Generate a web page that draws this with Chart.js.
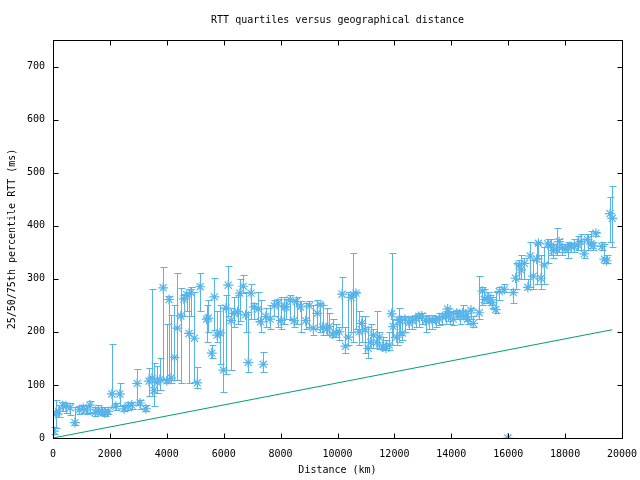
<!DOCTYPE html>
<html>
<head>
<meta charset="utf-8">
<script src="https://cdn.jsdelivr.net/npm/chart.js@4"></script>
<style>
html,body{margin:0;padding:0;background:#fff;}
#wrap{width:640px;height:480px;}
</style>
</head>
<body>
<div id="wrap"><canvas id="c" width="640" height="480"></canvas></div>
<script>
const titleText = "RTT quartiles versus geographical distance";
const xTitle = "Distance (km)";
const yTitle = "25/50/75th percentile RTT (ms)";

const distance = [30,100,200,340,460,600,770,920,1060,1180,1300,1480,1590,1710,1830,1940,2070,2210,2350,2500,2640,2770,2960,3060,3260,3370,3480,3550,3660,3760,3870,4000,4080,4150,4270,4370,4490,4600,4700,4780,4850,4970,5070,5170,5400,5460,5580,5670,5770,5870,5990,6080,6160,6260,6360,6490,6570,6690,6770,6860,6960,7070,7220,7300,7390,7480,7630,7780,7900,8010,8130,8190,8330,8470,8560,8700,8880,9010,9150,9290,9390,9480,9620,9710,9830,9950,10060,10160,10280,10380,10480,10560,10650,10760,10850,10970,11080,11170,11260,11380,11470,11590,11700,11820,11900,11960,12080,12160,12200,12280,12370,12510,12630,12750,12860,12960,13100,13220,13330,13450,13570,13690,13800,13870,13950,14070,14190,14310,14400,14510,14580,14690,14770,14980,15090,15160,15280,15360,15440,15560,15690,15860,15990,16180,16260,16380,16450,16570,16690,16770,16880,17000,17060,17150,17270,17390,17500,17580,17700,17790,17900,18000,18090,18210,18320,18440,18560,18670,18790,18910,18990,19080,19290,19380,19460,19580,19660];
const median = [13,45,50,61,60,57,29,53,56,53,62,48,53,50,47,50,83,60,83,55,60,62,103,66,55,107,113,90,105,111,283,108,261,113,152,207,230,262,270,197,274,188,104,285,224,226,160,266,194,198,128,245,288,221,235,238,273,286,232,142,273,247,243,219,139,229,224,249,254,221,247,247,260,221,257,247,221,249,207,235,251,209,205,210,196,198,200,271,173,190,265,270,273,200,216,204,169,180,194,180,190,173,169,175,234,210,190,222,222,198,224,217,221,225,229,230,221,222,222,222,224,229,230,243,232,224,235,229,236,229,224,241,216,236,277,261,265,260,255,242,276,280,0,274,301,326,317,329,284,343,305,337,367,301,326,366,362,353,356,370,359,356,359,361,361,364,370,347,374,366,362,386,361,337,334,423,414];
const q25 = [8,19,40,50,48,43,25,45,47,45,48,42,45,44,42,45,58,52,60,50,52,55,62,55,50,80,79,60,85,90,111,104,104,104,110,109,104,230,240,104,230,105,95,240,181,200,150,204,180,140,87,120,230,128,210,215,220,273,200,125,225,225,220,200,125,210,205,230,210,205,215,225,225,210,215,200,205,210,195,205,200,195,195,195,190,190,185,210,160,175,200,180,205,175,180,160,150,170,170,170,168,165,165,165,175,190,175,180,195,185,200,205,205,210,210,215,200,205,205,210,212,215,215,220,215,213,225,215,225,220,215,225,210,225,250,255,255,250,245,235,260,275,0,255,280,300,300,300,280,285,280,290,340,280,290,330,345,340,345,350,345,350,340,350,350,355,355,340,355,358,355,380,355,330,330,370,360];
const q75 = [20,72,62,68,66,66,58,60,62,60,70,58,62,58,55,58,177,66,103,62,67,68,130,72,62,132,281,141,135,150,322,215,268,232,250,311,282,270,275,280,285,275,134,311,250,260,175,301,240,250,245,270,324,245,265,270,300,307,275,238,290,255,275,260,163,245,250,260,262,265,265,262,270,262,265,258,255,258,250,260,255,250,245,235,225,215,210,304,210,275,270,348,275,240,230,230,210,215,205,240,200,190,185,200,348,225,215,245,230,225,230,228,230,232,235,235,230,232,232,230,235,235,240,245,238,240,242,240,250,240,235,245,230,305,285,280,275,270,265,275,285,290,0,280,330,335,345,340,300,370,335,365,370,345,360,375,375,365,395,375,365,365,370,368,375,380,385,375,385,390,370,388,370,365,345,455,475];

const boundDistance = [0, 19650];
const boundRtt = [0, 204];

const xTicks = [0,2000,4000,6000,8000,10000,12000,14000,16000,18000,20000];
const yTicks = [0,100,200,300,400,500,600,700];

const BLUE = '#56B4E9';
const GREEN = '#009E73';
const FONT = {family: '"DejaVu Sans Mono", "Liberation Mono", monospace', size: 10};

const pts = distance.map((d, i) => ({x: d, y: median[i]}));
const bound = boundDistance.map((d, i) => ({x: d, y: boundRtt[i]}));

const gnuplotFrame = {
  id: 'gnuplotFrame',
  beforeDatasetsDraw(chart) {
    const ctx = chart.ctx, xs = chart.scales.x, ys = chart.scales.y;
    ctx.save();
    ctx.strokeStyle = BLUE;
    ctx.lineWidth = 1;
    ctx.beginPath();
    for (let i = 0; i < distance.length; i++) {
      if (q25[i] === q75[i]) continue;
      const px = Math.round(xs.getPixelForValue(distance[i])) + 0.5;
      const pl = Math.round(ys.getPixelForValue(q25[i])) + 0.5;
      const ph = Math.round(ys.getPixelForValue(q75[i])) + 0.5;
      ctx.moveTo(px, pl); ctx.lineTo(px, ph);
      ctx.moveTo(px - 3, pl); ctx.lineTo(px + 4, pl);
      ctx.moveTo(px - 3, ph); ctx.lineTo(px + 4, ph);
    }
    ctx.stroke();
    ctx.restore();
  },
  afterDraw(chart) {
    const ctx = chart.ctx, a = chart.chartArea, xs = chart.scales.x, ys = chart.scales.y;
    ctx.save();
    ctx.strokeStyle = '#000';
    ctx.lineWidth = 1;
    const L = Math.round(a.left) + 0.5, R = Math.round(a.right) + 0.5;
    const T = Math.round(a.top) + 0.5, B = Math.round(a.bottom) + 0.5;
    ctx.strokeRect(L, T, R - L, B - T);
    ctx.beginPath();
    const tl = 5;
    xs.ticks.forEach(t => {
      const px = Math.round(xs.getPixelForValue(t.value)) + 0.5;
      ctx.moveTo(px, B); ctx.lineTo(px, B - tl);
      ctx.moveTo(px, T); ctx.lineTo(px, T + tl);
    });
    ys.ticks.forEach(t => {
      const py = Math.round(ys.getPixelForValue(t.value)) + 0.5;
      ctx.moveTo(L, py); ctx.lineTo(L + tl, py);
      ctx.moveTo(R, py); ctx.lineTo(R - tl, py);
    });
    ctx.stroke();
    // chart title centred over the plot area, as gnuplot does
    ctx.fillStyle = '#000';
    ctx.font = '10px ' + FONT.family;
    ctx.textAlign = 'center';
    ctx.textBaseline = 'middle';
    ctx.fillText(titleText, (a.left + a.right) / 2, 20);
    ctx.restore();
  }
};

new Chart(document.getElementById('c'), {
  type: 'scatter',
  data: {
    datasets: [
      {
        label: 'median',
        data: pts,
        pointStyle: 'star',
        pointRadius: 5,
        borderColor: BLUE,
        backgroundColor: BLUE,
        borderWidth: 1.2,
        showLine: false
      },
      {
        label: 'bound',
        type: 'line',
        data: bound,
        borderColor: GREEN,
        borderWidth: 1,
        pointRadius: 0,
        fill: false
      }
    ]
  },
  options: {
    responsive: false,
    animation: false,
    devicePixelRatio: 1,
    layout: {padding: {left: 0, right: 18, top: 40, bottom: 0}},
    plugins: {
      legend: {display: false},
      tooltip: {enabled: false},
      title: {display: false}
    },
    scales: {
      x: {
        type: 'linear',
        min: 0, max: 20000,
        afterBuildTicks(s) { s.ticks = xTicks.map(v => ({value: v})); },
        afterFit(s) { s.height = 42; s.paddingRight = 0; s.paddingLeft = 0; },
        grid: {display: true, drawOnChartArea: false, drawTicks: false},
        border: {display: true, color: '#000'},
        ticks: {color: '#000', font: FONT, padding: 10, maxRotation: 0, autoSkip: false,
                callback: v => String(v)},
        title: {display: true, text: xTitle, color: '#000', font: FONT, padding: {top: 0, bottom: 4}}
      },
      y: {
        type: 'linear',
        min: 0, max: 750,
        afterBuildTicks(s) { s.ticks = yTicks.map(v => ({value: v})); },
        afterFit(s) { s.width = 53; s.paddingTop = 0; s.paddingBottom = 0; },
        grid: {display: true, drawOnChartArea: false, drawTicks: false},
        border: {display: true, color: '#000'},
        ticks: {color: '#000', font: FONT, padding: 8, autoSkip: false, callback: v => String(v)},
        title: {display: true, text: yTitle, color: '#000', font: FONT, padding: {top: 6, bottom: 0}}
      }
    }
  },
  plugins: [gnuplotFrame]
});
</script>
</body>
</html>
